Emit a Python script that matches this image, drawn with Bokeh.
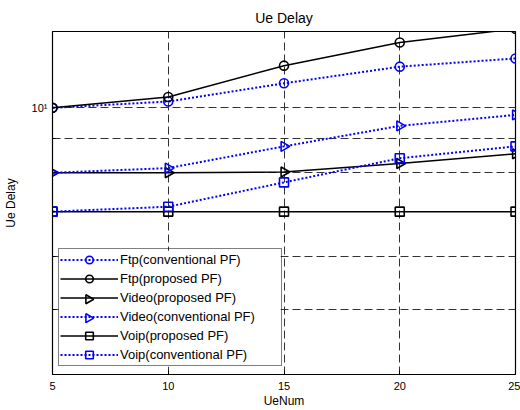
import math
from bokeh.plotting import figure
from bokeh.models import FixedTicker, Range1d, Legend, LegendItem, BoxAnnotation
from bokeh.embed import file_html
from bokeh.resources import INLINE

ue_num = [5, 10, 15, 20, 25]
ftp_conventional = [10.0, 10.22, 10.88, 11.52, 11.85]
ftp_proposed = [10.0, 10.38, 11.56, 12.52, 13.12]
video_proposed = [8.0, 8.0, 8.02, 8.26, 8.54]
video_conventional = [8.0, 8.13, 8.76, 9.40, 9.76]
voip_proposed = [7.0, 7.0, 7.0, 7.0, 7.0]
voip_conventional = [7.0, 7.12, 7.74, 8.41, 8.76]

x_ticks = [5, 10, 15, 20, 25]
y_major_ticks = [10]
y_minor_ticks = [4, 5, 6, 7, 8, 9]
y_grid_ticks = [5, 6, 7, 8, 9, 10]

FONT = "Liberation Sans"
X0, X1 = 5, 25
Y0, Y1 = 4, 13
W, H = 520, 410
BL, BR, BT, BB = 52, 5, 31, 35
FRAME_W, FRAME_H = W - BL - BR, H - BT - BB

p = figure(width=W, height=H, output_backend="svg", toolbar_location=None,
           y_axis_type="log", x_range=Range1d(X0, X1), y_range=Range1d(Y0, Y1),
           min_border_left=BL, min_border_right=BR, min_border_top=BT,
           min_border_bottom=BB, title="Ue Delay")

p.title.align = "center"
p.title.text_font = FONT
p.title.text_font_size = "14px"
p.title.text_font_style = "normal"
p.title.text_color = "black"
p.title.standoff = 12

p.outline_line_color = "black"
p.outline_line_width = 1.2
p.background_fill_color = "white"
p.border_fill_color = "white"

# axes
p.xaxis.ticker = FixedTicker(ticks=x_ticks)
p.yaxis.ticker = FixedTicker(ticks=y_major_ticks, minor_ticks=y_minor_ticks)
p.yaxis.major_label_overrides = {10: "10\u00b9"}
for ax in (p.xaxis, p.yaxis):
    ax.axis_line_color = "black"
    ax.major_tick_line_color = "black"
    ax.minor_tick_line_color = "black"
    ax.major_tick_in = 4
    ax.major_tick_out = 0
    ax.minor_tick_in = 3
    ax.minor_tick_out = 0
    ax.major_label_text_font = FONT
    ax.major_label_text_font_size = "11px"
    ax.major_label_text_color = "black"
    ax.axis_label_text_font = FONT
    ax.axis_label_text_font_size = "12px"
    ax.axis_label_text_font_style = "normal"
    ax.axis_label_text_color = "black"
p.xaxis.axis_label = "UeNum"
p.yaxis.axis_label = "Ue Delay"
p.xaxis.major_label_standoff = 7
p.xaxis.axis_label_standoff = 1
p.yaxis.major_label_standoff = 5
p.yaxis.axis_label_standoff = 11

# grid
p.xgrid.ticker = FixedTicker(ticks=x_ticks)
p.ygrid.ticker = FixedTicker(ticks=y_grid_ticks)
for g in (p.xgrid, p.ygrid):
    g.grid_line_color = "#333333"
    g.grid_line_dash = "8 4"
    g.grid_line_width = 1

BLUE = "#0000ff"
series = [
    ("Ftp(conventional PF)", ftp_conventional, BLUE, "2 2", 2, "circle", 0),
    ("Ftp(proposed PF)", ftp_proposed, "black", "solid", 1.5, "circle", 0),
    ("Video(proposed PF)", video_proposed, "black", "solid", 1.5, "triangle", -math.pi / 2),
    ("Video(conventional PF)", video_conventional, BLUE, "2 2", 2, "triangle", -math.pi / 2),
    ("Voip(proposed PF)", voip_proposed, "black", "solid", 1.5, "square", 0),
    ("Voip(conventional PF)", voip_conventional, BLUE, "2 2", 2, "square", 0),
]

# legend geometry (px relative to the frame's bottom-left corner)
LEG_X, LEG_Y = 6, 8
PAD, GW, GH, SP, STANDOFF, LABEL_W = 1, 58, 19, 0, 2, 160
n_items = len(series)
leg_h = 2 * PAD + n_items * GH + (n_items - 1) * SP
leg_w = 2 * PAD + GW + STANDOFF + LABEL_W


def px_to_x(sx):
    return X0 + sx / FRAME_W * (X1 - X0)


def px_to_y(sy):
    return 10 ** (math.log10(Y0) + sy / FRAME_H * (math.log10(Y1) - math.log10(Y0)))


# opaque legend background above the grid but below the data
p.add_layout(BoxAnnotation(left=px_to_x(LEG_X), right=px_to_x(LEG_X + leg_w),
                           bottom=px_to_y(LEG_Y), top=px_to_y(LEG_Y + leg_h),
                           fill_color="white", fill_alpha=1, line_color=None,
                           level="underlay"))

items = []
tri_x, tri_y, tri_c = [], [], []
for i, (label, ys, color, dash, lw, marker, ang) in enumerate(series):
    r1 = p.line(ue_num, ys, line_color=color, line_dash=dash, line_width=lw)
    size = 10 if marker == "triangle" else 9
    r2 = p.scatter(ue_num, ys, marker=marker, size=size, angle=ang,
                   line_color=color, fill_color=None, line_width=1.6)
    if marker == "triangle":
        # Bokeh does not rotate legend markers: place a right-pointing one at the key
        items.append(LegendItem(label=label, renderers=[r1]))
        tri_x.append(px_to_x(LEG_X + PAD + GW / 2))
        tri_y.append(px_to_y(LEG_Y + leg_h - PAD - i * (GH + SP) - GH / 2))
        tri_c.append(color)
    else:
        items.append(LegendItem(label=label, renderers=[r1, r2]))

p.scatter(tri_x, tri_y, marker="triangle", size=9, angle=-math.pi / 2,
          line_color=tri_c, fill_color=None, line_width=1.6)

legend = Legend(items=items, location=(LEG_X, LEG_Y))
legend.label_text_font = FONT
legend.label_text_font_size = "13px"
legend.label_text_color = "black"
legend.glyph_width = GW
legend.glyph_height = GH
legend.label_height = GH
legend.label_width = LABEL_W
legend.label_standoff = STANDOFF
legend.spacing = SP
legend.padding = PAD
legend.margin = 0
legend.border_line_color = "black"
legend.border_line_width = 1.2
legend.background_fill_alpha = 0
p.add_layout(legend, "center")

open("out.html", "w").write(file_html(p, INLINE))
